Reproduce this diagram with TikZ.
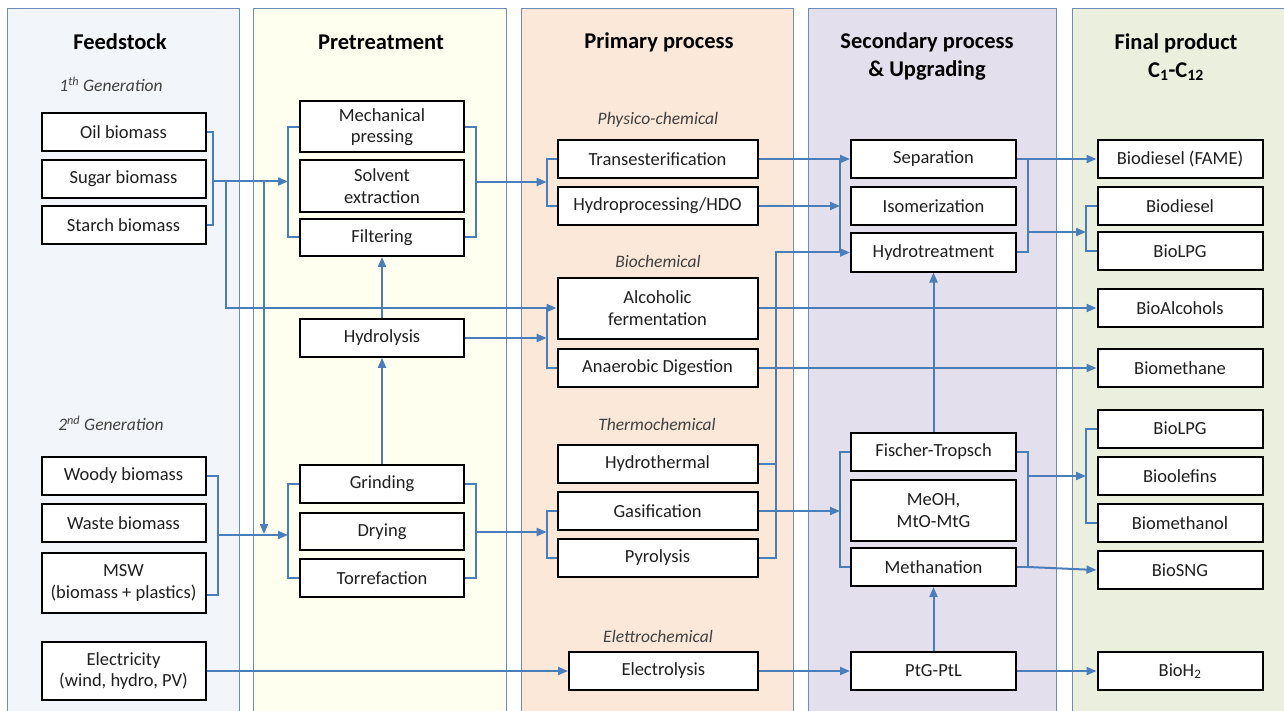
\documentclass[tikz,border=0pt]{standalone}
\usepackage{fontspec}
\setmainfont{Carlito}
\usetikzlibrary{arrows.meta}
\definecolor{lnc}{RGB}{74,126,187}
\definecolor{colb}{RGB}{110,140,185}
\definecolor{cfeed}{RGB}{242,245,250}
\definecolor{cpre}{RGB}{254,255,238}
\definecolor{cprim}{RGB}{252,232,217}
\definecolor{csec}{RGB}{228,223,236}
\definecolor{cfin}{RGB}{235,240,222}
\pgfdeclarelayer{bg}
\pgfdeclarelayer{conn}
\pgfsetlayers{bg,conn,main}
\tikzset{
  bx/.style={draw=black, line width=2pt, fill=white, align=center, inner sep=1pt,
    font=\fontsize{18.5}{21.5}\selectfont, text=black!88},
  con/.style={draw=lnc, line width=2pt},
  arr/.style={con, -{Triangle[length=10pt,width=8pt]}},
  hd/.style={font=\fontsize{22.5}{28}\selectfont\bfseries, align=center, text=black},
  sub/.style={font=\fontsize{17.5}{20}\selectfont\itshape, text=black!75},
  colbox/.style={draw=colb, line width=1pt}
}
\begin{document}
\begin{tikzpicture}[x=1pt,y=-1pt]
\useasboundingbox (0,0) rectangle (1284,711);
\begin{pgfonlayer}{bg}
\path[colbox, fill=cfeed] (7,9) rectangle (239,730);
\path[colbox, fill=cpre] (253,9) rectangle (506,730);
\path[colbox, fill=cprim] (521,9) rectangle (793,730);
\path[colbox, fill=csec] (808,9) rectangle (1056,730);
\path[colbox, fill=cfin] (1072,9) rectangle (1300,730);
\end{pgfonlayer}

% headings
\node[hd] (hfeed) at (120,42) {Feedstock};
\node[hd] (hpre) at (381,42) {Pretreatment};
\node[hd] (hprim) at (659,42) {Primary process};
\node[hd] (hsec) at (927,57) {Secondary process\\\& Upgrading};
\node[hd] (hfin) at (1176,57) {Final product\\C\textsubscript{1}-C\textsubscript{12}};

% subheadings
\node[sub] (g1) at (111,84) {1\textsuperscript{th} Generation};
\node[sub] (g2) at (111,423) {2\textsuperscript{nd} Generation};
\node[sub] (sphys) at (658,120) {Physico-chemical};
\node[sub] (sbio) at (658,261) {Biochemical};
\node[sub] (sther) at (657,424) {Thermochemical};
\node[sub] (sele) at (658,636) {Elettrochemical};

% feedstock
\node[bx, minimum width=164, minimum height=38] (oil) at (123.5,132) {Oil biomass};
\node[bx, minimum width=164, minimum height=38] (sugar) at (123.5,179) {Sugar biomass};
\node[bx, minimum width=164, minimum height=38] (starch) at (123.5,225.5) {Starch biomass};
\node[bx, minimum width=164, minimum height=38] (woody) at (123.5,476) {Woody biomass};
\node[bx, minimum width=164, minimum height=38] (waste) at (123.5,523) {Waste biomass};
\node[bx, minimum width=164, minimum height=60] (msw) at (123.5,583) {MSW\\(biomass + plastics)};
\node[bx, minimum width=164, minimum height=58] (elec) at (123.5,671) {Electricity\\(wind, hydro, PV)};

% pretreatment
\node[bx, minimum width=164, minimum height=51] (mech) at (382,127) {Mechanical\\pressing};
\node[bx, minimum width=164, minimum height=52] (solv) at (382,186) {Solvent\\extraction};
\node[bx, minimum width=164, minimum height=37] (filt) at (382,237.5) {Filtering};
\node[bx, minimum width=164, minimum height=37.5] (hydrol) at (382,338) {Hydrolysis};
\node[bx, minimum width=164, minimum height=38] (grind) at (382,484) {Grinding};
\node[bx, minimum width=164, minimum height=37.5] (dry) at (382,531.3) {Drying};
\node[bx, minimum width=164, minimum height=38] (torr) at (382,578.3) {Torrefaction};

% primary
\node[bx, minimum width=200, minimum height=38] (trans) at (657.5,159) {Transesterification};
\node[bx, minimum width=200, minimum height=38] (hproc) at (657.5,206) {Hydroprocessing/HDO};
\node[bx, minimum width=200, minimum height=61] (alc) at (657.5,308) {Alcoholic\\fermentation};
\node[bx, minimum width=200, minimum height=38] (anaer) at (657.5,368) {Anaerobic Digestion};
\node[bx, minimum width=200, minimum height=38] (hthermal) at (657.5,464) {Hydrothermal};
\node[bx, minimum width=200, minimum height=38] (gas) at (657.5,511) {Gasification};
\node[bx, minimum width=200, minimum height=38] (pyro) at (657.5,558) {Pyrolysis};
\node[bx, minimum width=188.5, minimum height=38] (elys) at (663.3,671) {Electrolysis};

% secondary
\node[bx, minimum width=165, minimum height=38] (sep) at (933.5,159) {Separation};
\node[bx, minimum width=165, minimum height=38] (isom) at (933.5,206) {Isomerization};
\node[bx, minimum width=165, minimum height=38] (htreat) at (933.5,252.5) {Hydrotreatment};
\node[bx, minimum width=165, minimum height=38] (ft) at (933.5,452) {Fischer-Tropsch};
\node[bx, minimum width=165, minimum height=61] (meoh) at (933.5,510.5) {MeOH,\\MtO-MtG};
\node[bx, minimum width=165, minimum height=38] (meth) at (933.5,567) {Methanation};
\node[bx, minimum width=165, minimum height=38] (ptg) at (933.5,671) {PtG-PtL};

% final
\node[bx, minimum width=165, minimum height=38] (fame) at (1180,159) {Biodiesel (FAME)};
\node[bx, minimum width=165, minimum height=38] (biod) at (1180,206) {Biodiesel};
\node[bx, minimum width=165, minimum height=38] (lpga) at (1180,251) {BioLPG};
\node[bx, minimum width=165, minimum height=38] (bioalc) at (1180,308) {BioAlcohols};
\node[bx, minimum width=165, minimum height=38] (biometh) at (1180,368) {Biomethane};
\node[bx, minimum width=165, minimum height=38] (lpgb) at (1180,428.5) {BioLPG};
\node[bx, minimum width=165, minimum height=38] (olef) at (1180,476) {Bioolefins};
\node[bx, minimum width=165, minimum height=38] (bmeoh) at (1180,523) {Biomethanol};
\node[bx, minimum width=165, minimum height=38] (sng) at (1180,570) {BioSNG};
\node[bx, minimum width=165, minimum height=38] (h2) at (1180,671) {BioH\textsubscript{2}};

% named junction points
\coordinate (fbr) at (213,181.5);
\coordinate (fa) at (226,181.5);
\coordinate (fv) at (264,181.5);
\coordinate (fvend) at (264,534);
\coordinate (pin1) at (288,181.5);
\coordinate (pout1) at (476,182);
\coordinate (prin1) at (546.7,182);
\coordinate (sbr1) at (840,206);
\coordinate (sout1) at (1027.7,232);
\coordinate (fin1) at (1086,232);
\coordinate (bioin) at (546.7,338);
\coordinate (f2br) at (218,535);
\coordinate (pin2) at (288,535);
\coordinate (pout2) at (476,532);
\coordinate (prin2) at (546.7,532);
\coordinate (sbr2) at (840,511);
\coordinate (sout2) at (1027.7,476);
\coordinate (fin2) at (1086,476);
\coordinate (sout3) at (1027.7,567);
\coordinate (m595) at (0,595);

\begin{pgfonlayer}{conn}
% feedstock 1st gen
\draw[con] (oil.east) -- (213,132) -- (213,225.5) -- (starch.east);
\draw[arr] (fbr) -- (pin1);
\draw[arr] (fa) |- (alc.west);
\draw[arr] (fv) -- (fvend);
% pretreatment upper
\draw[con] (mech.west) -- (288,127) -- (288,237.5) -- (filt.west);
\draw[con] (mech.east) -- (476,127) -- (476,237.5) -- (filt.east);
\draw[arr] (pout1) -- (prin1);
% primary upper
\draw[con] (trans.west) -- (546.7,159) -- (546.7,206) -- (hproc.west);
\draw[arr] (trans.east) -- (sep.west);
\draw[arr] (hproc.east) -- (sbr1);
\draw[con] (840,159) -- (840,252.5);
\draw[arr] (pyro.east) -- (776,558) -- (776,252.5) -- (htreat.west);
\draw[con] (hthermal.east) -- (776,464);
% secondary upper
\draw[arr] (sep.east) -- (fame.west);
\draw[con] (1027.7,159) -- (1027.7,252.5) -- (htreat.east);
\draw[arr] (sout1) -- (fin1);
\draw[con] (biod.west) -- (1086,206) -- (1086,251) -- (lpga.west);
% biochemical
\draw[con] (546.7,308) -- (546.7,368) -- (anaer.west);
\draw[arr] (hydrol.east) -- (bioin);
\draw[arr] (alc.east) -- (bioalc.west);
\draw[arr] (anaer.east) -- (biometh.west);
\draw[arr] (hydrol.north) -- (filt.south);
\draw[arr] (grind.north) -- (hydrol.south);
% 2nd gen
\draw[con] (woody.east) -- (218,476) -- (218,595) -- (msw.east |- m595);
\draw[arr] (f2br) -- (pin2);
\draw[con] (grind.west) -- (288,484) -- (288,578.3) -- (torr.west);
\draw[con] (grind.east) -- (476,484) -- (476,578.3) -- (torr.east);
\draw[arr] (pout2) -- (prin2);
\draw[con] (gas.west) -- (546.7,511) -- (546.7,558) -- (pyro.west);
\draw[arr] (gas.east) -- (sbr2);
% secondary lower
\draw[con] (ft.west) -- (840,452) -- (840,567) -- (meth.west);
\draw[con] (ft.east) -- (1027.7,452) -- (1027.7,567) -- (meth.east);
\draw[arr] (sout2) -- (fin2);
\draw[con] (lpgb.west) -- (1086,428.5) -- (1086,523) -- (bmeoh.west);
\draw[arr] (sout3) -- (sng.west);
\draw[arr] (ft.north) -- (htreat.south);
\draw[arr] (ptg.north) -- (meth.south);
% electricity
\draw[arr] (elec.east) -- (elys.west);
\draw[arr] (elys.east) -- (ptg.west);
\draw[arr] (ptg.east) -- (h2.west);
\end{pgfonlayer}
\end{tikzpicture}
\end{document}
